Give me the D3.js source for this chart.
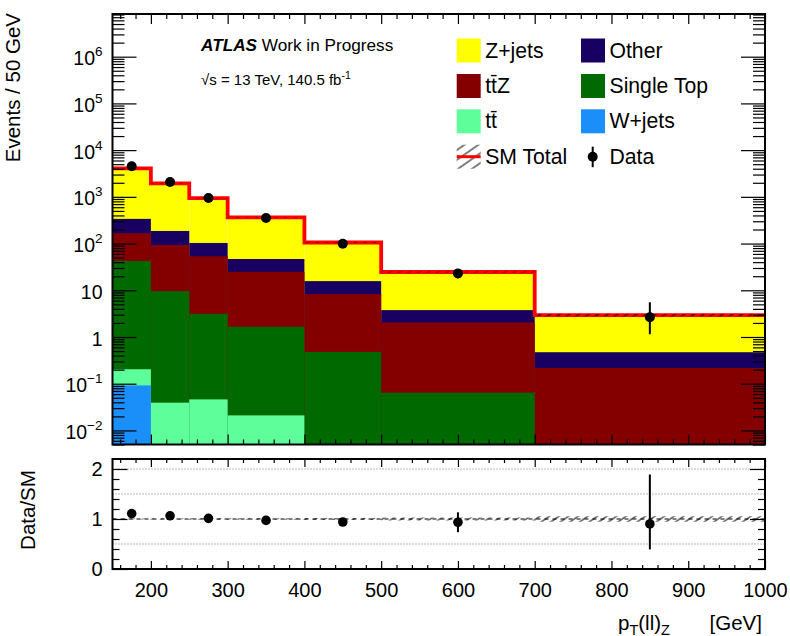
<!DOCTYPE html>
<html>
<head>
<meta charset="utf-8">
<script src="https://cdn.jsdelivr.net/npm/d3@7"></script>
<style>
  body { margin: 0; background: #fff; }
  svg { font-family: "Liberation Sans", Arial, Helvetica, sans-serif; }
</style>
</head>
<body>
<svg id="chart" width="790" height="636"></svg>
<script>
// ---- binning and per-bin yields (events / 50 GeV) ----
const binEdges    = [150, 200, 250, 300, 400, 500, 700, 1000];
const wJets       = [0.092, 0, 0, 0, 0, 0, 0];
const ttbar       = [0.112, 0.0393, 0.0462, 0.021, 0, 0, 0];
const singleTop   = [42.2, 9.56, 3.08, 1.63, 0.479, 0.0644, 0];
const ttZ         = [124, 83.7, 50.3, 23.25, 7.80, 1.986, 0.217];
const other       = [171, 92.7, 49.6, 21.8, 7.42, 1.71, 0.255];
const zJets       = [3743, 1764, 833, 315.3, 89.8, 20.84, 2.468];
const data        = [4520, 2075, 948, 352, 99.2, 23.0, 2.65];
const dataErrUp   = [67, 45, 31, 13, 7, 4.9, 2.9];
const dataErrDown = [67, 45, 31, 13, 7, 4.9, 1.5];
const mcRelUnc    = [0.01, 0.012, 0.015, 0.015, 0.02, 0.03, 0.055];

// tick values
const xMajorTicks = [200, 300, 400, 500, 600, 700, 800, 900, 1000];
const yDecades    = [-2, -1, 0, 1, 2, 3, 4, 5, 6];
const ratioTicks  = [0, 1, 2];

// stack, bottom to top
const stackNames  = ["W+jets", "tt\u0304", "Single Top", "tt\u0304Z", "Other", "Z+jets"];
const stackValues = [wJets, ttbar, singleTop, ttZ, other, zJets];
const stackColors = ["#1a8ffa", "#5eff9b", "#006a00", "#840000", "#170062", "#ffff00"];

// ---- layout ----
const mainL = 112.5, mainR = 765, mainT = 14, mainB = 444.5;
const ratT = 459, ratB = 569;

const svg = d3.select("#chart");
const x  = d3.scaleLinear().domain([150, 1000]).range([mainL, mainR]);
const y  = d3.scaleLog().domain([0.005, 8.2e6]).range([mainB, mainT]);
const yr = d3.scaleLinear().domain([0, 2.2]).range([ratB, ratT]);

const nBins = binEdges.length - 1;
const bins = d3.range(nBins).map(i => ({ i, lo: binEdges[i], hi: binEdges[i + 1], c: (binEdges[i] + binEdges[i + 1]) / 2 }));

// cumulative stack
const cumulative = [];
stackValues.forEach((vals, k) => {
  cumulative.push(vals.map((v, i) => v + (k > 0 ? cumulative[k - 1][i] : 0)));
});
const total = cumulative[cumulative.length - 1];

const defs = svg.append("defs");
defs.append("clipPath").attr("id", "clipMain")
  .append("rect").attr("x", mainL).attr("y", mainT).attr("width", mainR - mainL).attr("height", mainB - mainT);
defs.append("clipPath").attr("id", "clipRatio")
  .append("rect").attr("x", mainL).attr("y", ratT).attr("width", mainR - mainL).attr("height", ratB - ratT);
function addHatch(id, spacing) {
  const p = defs.append("pattern").attr("id", id)
    .attr("patternUnits", "userSpaceOnUse").attr("width", spacing).attr("height", 10)
    .attr("patternTransform", "rotate(55)");
  p.append("line").attr("x1", 1).attr("y1", 0).attr("x2", 1).attr("y2", 10)
    .attr("stroke", "#000").attr("stroke-width", 1);
}
addHatch("hatch", 5.5);
addHatch("hatchLegend", 8);

// ---- main panel: stacked histogram ----
const gMain = svg.append("g").attr("clip-path", "url(#clipMain)");
for (let k = stackValues.length - 1; k >= 0; k--) {
  gMain.append("g").selectAll("rect")
    .data(bins.filter(b => stackValues[k][b.i] > 0))
    .join("rect")
    .attr("x", b => x(b.lo))
    .attr("width", b => x(b.hi) - x(b.lo))
    .attr("y", b => y(cumulative[k][b.i]))
    .attr("height", b => mainB - y(cumulative[k][b.i]))
    .attr("fill", stackColors[k]);
}

// SM total outline
const stepPts = [];
bins.forEach(b => { stepPts.push([b.lo, total[b.i]]); stepPts.push([b.hi, total[b.i]]); });
gMain.append("path")
  .attr("d", d3.line().x(d => x(d[0])).y(d => y(d[1]))(stepPts))
  .attr("fill", "none").attr("stroke", "#ff0000").attr("stroke-width", 3.8);

// MC uncertainty band
gMain.append("g").selectAll("rect").data(bins).join("rect")
  .attr("x", b => x(b.lo))
  .attr("width", b => x(b.hi) - x(b.lo))
  .attr("y", b => y(total[b.i] * (1 + mcRelUnc[b.i])))
  .attr("height", b => y(total[b.i] * (1 - mcRelUnc[b.i])) - y(total[b.i] * (1 + mcRelUnc[b.i])))
  .attr("fill", "url(#hatch)");

// data points
const gData = gMain.append("g");
gData.selectAll("line").data(bins).join("line")
  .attr("x1", b => x(b.c)).attr("x2", b => x(b.c))
  .attr("y1", b => y(data[b.i] + dataErrUp[b.i]))
  .attr("y2", b => y(Math.max(data[b.i] - dataErrDown[b.i], 0.005)))
  .attr("stroke", "#000").attr("stroke-width", 2);
gData.selectAll("circle").data(bins).join("circle")
  .attr("cx", b => x(b.c)).attr("cy", b => y(data[b.i])).attr("r", 5).attr("fill", "#000");

// ---- main panel axes (ticks inside on all sides) ----
function tidy(g) {
  g.select(".domain").remove();
  g.selectAll(".tick line").attr("stroke-width", 1.2);
  g.selectAll(".tick text").remove();
  return g;
}
const xMinor = d3.range(160, 1000, 20).filter(v => v % 100 !== 0);
svg.append("g").attr("transform", `translate(0,${mainB})`)
  .call(d3.axisTop(x).tickValues(xMajorTicks).tickSize(10)).call(tidy);
svg.append("g").attr("transform", `translate(0,${mainB})`)
  .call(d3.axisTop(x).tickValues(xMinor).tickSize(5)).call(tidy);
svg.append("g").attr("transform", `translate(0,${mainT})`)
  .call(d3.axisBottom(x).tickValues(xMajorTicks).tickSize(10)).call(tidy);
svg.append("g").attr("transform", `translate(0,${mainT})`)
  .call(d3.axisBottom(x).tickValues(xMinor).tickSize(5)).call(tidy);

const yMajor = yDecades.map(e => Math.pow(10, e));
const yMinor = [];
for (let e = -3; e <= 6; e++) for (let m = 2; m <= 9; m++) {
  const v = m * Math.pow(10, e);
  if (v >= 0.005 && v <= 8.2e6) yMinor.push(v);
}
svg.append("g").attr("transform", `translate(${mainL},0)`)
  .call(d3.axisRight(y).tickValues(yMajor).tickSize(24)).call(tidy);
svg.append("g").attr("transform", `translate(${mainL},0)`)
  .call(d3.axisRight(y).tickValues(yMinor).tickSize(12)).call(tidy);
svg.append("g").attr("transform", `translate(${mainR},0)`)
  .call(d3.axisLeft(y).tickValues(yMajor).tickSize(24)).call(tidy);
svg.append("g").attr("transform", `translate(${mainR},0)`)
  .call(d3.axisLeft(y).tickValues(yMinor).tickSize(12)).call(tidy);

// y labels with powers of ten
const yLab = svg.append("g").attr("font-size", 19.5).attr("text-anchor", "end");
yDecades.forEach(e => {
  const t = yLab.append("text").attr("x", mainL - 10).attr("y", y(Math.pow(10, e)) + 8.5);
  if (e === 0) t.text("1");
  else if (e === 1) t.text("10");
  else {
    t.append("tspan").text("10");
    t.append("tspan").attr("dy", -9).attr("font-size", 13.5).text(e < 0 ? "\u2212" + (-e) : String(e));
  }
});

svg.append("rect").attr("x", mainL).attr("y", mainT).attr("width", mainR - mainL).attr("height", mainB - mainT)
  .attr("fill", "none").attr("stroke", "#000").attr("stroke-width", 2);

svg.append("text").attr("transform", `translate(20,${mainT - 1}) rotate(-90)`)
  .attr("text-anchor", "end").attr("font-size", 20.5).text("Events / 50 GeV");

// ---- labels inside main panel ----
const atlas = svg.append("text").attr("x", 201).attr("y", 50.7).attr("font-size", 17.2);
atlas.append("tspan").attr("font-weight", "bold").attr("font-style", "italic").text("ATLAS");
atlas.append("tspan").text(" Work in Progress");
const lumi = svg.append("text").attr("x", 201).attr("y", 85).attr("font-size", 15);
lumi.append("tspan").text("\u221As = 13 TeV, 140.5 fb");
lumi.append("tspan").attr("dy", -6).attr("font-size", 10.5).text("-1");

// legend
const legendEntries = [
  { name: "Z+jets", color: stackColors[5], col: 0, row: 0 },
  { name: "Other", color: stackColors[4], col: 1, row: 0 },
  { name: "tt\u0304Z", color: stackColors[3], col: 0, row: 1 },
  { name: "Single Top", color: stackColors[2], col: 1, row: 1 },
  { name: "tt\u0304", color: stackColors[1], col: 0, row: 2 },
  { name: "W+jets", color: stackColors[0], col: 1, row: 2 }
];
const colX = [456.7, 581], rowY = [50.5, 86, 121.3, 156.7];
const gLeg = svg.append("g").attr("font-size", 21.2);
legendEntries.forEach(d => {
  gLeg.append("rect").attr("x", colX[d.col]).attr("y", rowY[d.row] - 12).attr("width", 24).attr("height", 24).attr("fill", d.color);
  gLeg.append("text").attr("x", colX[d.col] + 28.5).attr("y", rowY[d.row] + 7).text(d.name);
});
gLeg.append("rect").attr("x", colX[0]).attr("y", rowY[3] - 12).attr("width", 24).attr("height", 24).attr("fill", "url(#hatchLegend)");
gLeg.append("line").attr("x1", colX[0]).attr("x2", colX[0] + 24).attr("y1", rowY[3]).attr("y2", rowY[3])
  .attr("stroke", "#ff0000").attr("stroke-width", 3);
gLeg.append("text").attr("x", colX[0] + 28.5).attr("y", rowY[3] + 7).text("SM Total");
gLeg.append("line").attr("x1", colX[1] + 11.7).attr("x2", colX[1] + 11.7).attr("y1", rowY[3] - 10).attr("y2", rowY[3] + 10.5)
  .attr("stroke", "#000").attr("stroke-width", 2);
gLeg.append("circle").attr("cx", colX[1] + 11.7).attr("cy", rowY[3]).attr("r", 5).attr("fill", "#000");
gLeg.append("text").attr("x", colX[1] + 28.5).attr("y", rowY[3] + 7).text("Data");

// ---- ratio panel ----
const gRat = svg.append("g").attr("clip-path", "url(#clipRatio)");
[0.5, 1.5, 2.0].forEach(v => {
  gRat.append("line").attr("x1", mainL).attr("x2", mainR).attr("y1", yr(v)).attr("y2", yr(v))
    .attr("stroke", "#777").attr("stroke-width", 1).attr("stroke-dasharray", "1,2");
});
gRat.append("g").selectAll("rect").data(bins).join("rect")
  .attr("x", b => x(b.lo)).attr("width", b => x(b.hi) - x(b.lo))
  .attr("y", b => yr(1 + mcRelUnc[b.i]))
  .attr("height", b => yr(1 - mcRelUnc[b.i]) - yr(1 + mcRelUnc[b.i]))
  .attr("fill", "url(#hatch)");
gRat.append("line").attr("x1", mainL).attr("x2", mainR).attr("y1", yr(1)).attr("y2", yr(1))
  .attr("stroke", "#000").attr("stroke-width", 1).attr("stroke-dasharray", "4,4");
gRat.append("g").selectAll("line").data(bins).join("line")
  .attr("x1", b => x(b.c)).attr("x2", b => x(b.c))
  .attr("y1", b => yr((data[b.i] + dataErrUp[b.i]) / total[b.i]))
  .attr("y2", b => yr((data[b.i] - dataErrDown[b.i]) / total[b.i]))
  .attr("stroke", "#000").attr("stroke-width", 2);
gRat.append("g").selectAll("circle").data(bins).join("circle")
  .attr("cx", b => x(b.c)).attr("cy", b => yr(data[b.i] / total[b.i])).attr("r", 4.8).attr("fill", "#000");

svg.append("g").attr("transform", `translate(0,${ratB})`)
  .call(d3.axisTop(x).tickValues(xMajorTicks).tickSize(8)).call(tidy);
svg.append("g").attr("transform", `translate(0,${ratB})`)
  .call(d3.axisTop(x).tickValues(xMinor).tickSize(4)).call(tidy);
svg.append("g").attr("transform", `translate(0,${ratT})`)
  .call(d3.axisBottom(x).tickValues(xMajorTicks).tickSize(8)).call(tidy);
svg.append("g").attr("transform", `translate(0,${ratT})`)
  .call(d3.axisBottom(x).tickValues(xMinor).tickSize(4)).call(tidy);
const rMinor = [0.2, 0.4, 0.6, 0.8, 1.2, 1.4, 1.6, 1.8];
svg.append("g").attr("transform", `translate(${mainL},0)`)
  .call(d3.axisRight(yr).tickValues(ratioTicks).tickSize(15)).call(tidy);
svg.append("g").attr("transform", `translate(${mainL},0)`)
  .call(d3.axisRight(yr).tickValues(rMinor).tickSize(7)).call(tidy);
svg.append("g").attr("transform", `translate(${mainR},0)`)
  .call(d3.axisLeft(yr).tickValues(ratioTicks).tickSize(15)).call(tidy);
svg.append("g").attr("transform", `translate(${mainR},0)`)
  .call(d3.axisLeft(yr).tickValues(rMinor).tickSize(7)).call(tidy);

// tick labels
const xLab = svg.append("g").attr("transform", `translate(0,${ratB})`)
  .call(d3.axisBottom(x).tickValues(xMajorTicks).tickSize(0).tickPadding(13.5).tickFormat(d3.format("d")));
xLab.select(".domain").remove();
xLab.attr("font-size", 20).attr("font-family", null);
const yrLab = svg.append("g").attr("transform", `translate(${mainL},0)`)
  .call(d3.axisLeft(yr).tickValues(ratioTicks).tickSize(0).tickPadding(10).tickFormat(d3.format("d")));
yrLab.select(".domain").remove();
yrLab.attr("font-size", 20).attr("font-family", null);

svg.append("rect").attr("x", mainL).attr("y", ratT).attr("width", mainR - mainL).attr("height", ratB - ratT)
  .attr("fill", "none").attr("stroke", "#000").attr("stroke-width", 2);

svg.append("text").attr("transform", `translate(35,${(ratT + ratB) / 2 - 4}) rotate(-90)`)
  .attr("text-anchor", "middle").attr("font-size", 20.5).text("Data/SM");

// x axis title
const xt = svg.append("text").attr("x", 618).attr("y", 630).attr("font-size", 20.5);
xt.append("tspan").text("p");
xt.append("tspan").attr("dy", 4.5).attr("font-size", 14.5).text("T");
xt.append("tspan").attr("dy", -4.5).text("(ll)");
xt.append("tspan").attr("dy", 4.5).attr("font-size", 14.5).text("Z");
svg.append("text").attr("x", 762).attr("y", 630).attr("font-size", 20.5).attr("text-anchor", "end").text("[GeV]");
</script>
</body>
</html>
